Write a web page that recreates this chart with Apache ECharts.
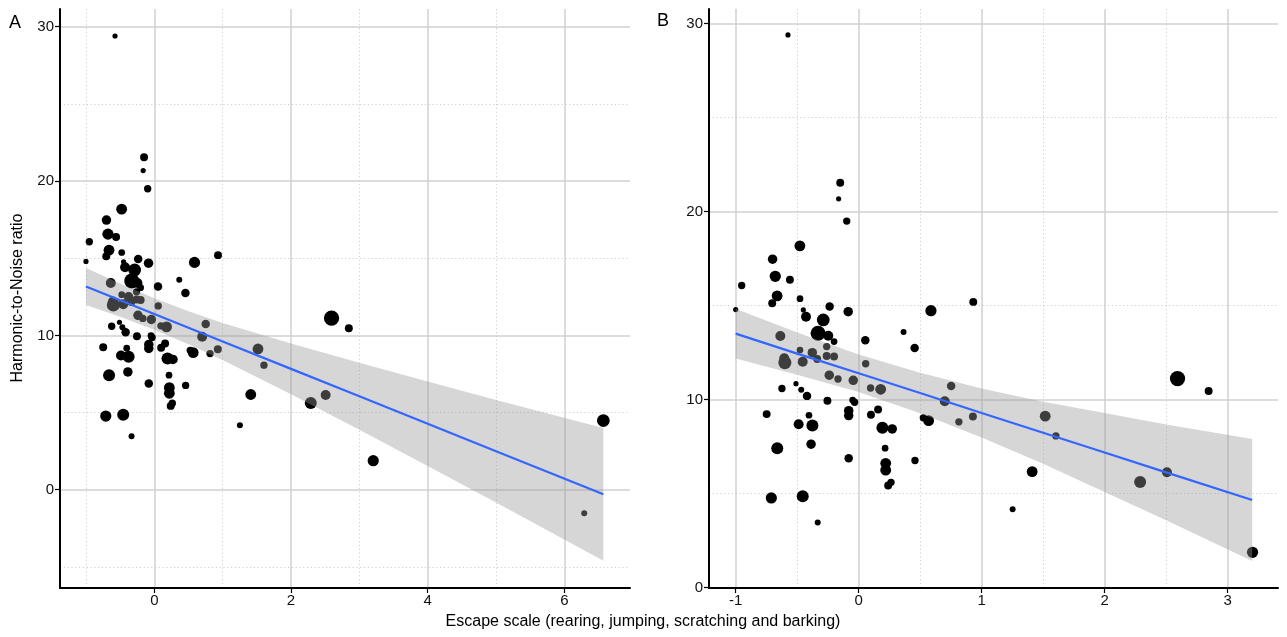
<!DOCTYPE html>
<html><head><meta charset="utf-8">
<script src="https://cdn.jsdelivr.net/npm/echarts@6.0.0/dist/echarts.min.js"></script>
<style>html,body{margin:0;padding:0;background:#fff}#c{width:1287px;height:637px}</style>
</head><body><div id="c"></div>
<script>
// ---------- data ----------
const escapeX = [-0.15,-0.163,-0.097,-0.478,-0.70,-0.678,-0.559,-0.951,-0.663,-0.703,
  -0.477,-1.0,-0.236,-0.085,-0.45,-0.428,-0.288,-0.33,-0.247,-0.20,
  0.054,0.365,-0.637,-0.26,-0.477,-0.377,-0.337,-0.26,-0.20,-0.605,
  -0.60,-0.455,0.057,-0.239,-0.168,-0.044,0.097,0.179,-0.624,-0.51,
  -0.467,-0.42,-0.254,-0.049,-0.033,-0.748,-0.404,-0.081,-0.081,0.10,
  0.158,-0.488,-0.376,0.193,0.273,0.526,0.569,0.70,0.752,0.815,
  0.929,-0.662,-0.387,0.215,-0.081,0.22,0.22,0.24,0.263,-0.71,
  -0.455,-0.333,0.588,0.932,0.455,0.458,1.517,1.604,1.411,1.252,
  2.593,2.846,2.289,2.507,3.203,-0.575];
const hnrY = [21.54,20.68,19.5,18.18,17.47,16.56,16.38,16.07,15.52,15.13,
  15.37,14.79,14.95,14.68,14.77,14.41,14.24,13.53,13.40,13.09,
  13.16,13.6,13.39,12.82,12.64,12.5,12.16,12.32,12.29,12.2,
  11.97,12.02,11.91,11.3,11.1,11.03,10.62,10.55,10.59,10.85,
  10.52,10.2,9.94,9.98,9.86,9.23,9.17,9.41,9.15,9.2,
  9.48,8.69,8.62,8.5,8.44,9.03,8.88,9.91,10.73,8.82,
  9.1,7.42,7.63,7.42,6.88,6.61,6.25,5.43,5.6,4.77,
  4.86,3.46,14.73,15.2,12.75,6.76,9.12,8.07,6.17,4.17,
  11.12,10.46,5.62,6.14,1.88,29.4];
const pointWeight = [7,3,6,13,10,14,7,6,13,7,
  5,3,8,10,3,11,18,25,11,5,
  8,4,11,6,5,10,7,7,7,11,
  19,11,6,10,6,10,6,13,6,3,
  4,8,7,5,6,7,5,10,10,7,
  7,11,16,16,10,6,13,11,8,6,
  7,16,10,5,8,13,13,7,6,14,
  16,4,14,7,8,6,13,6,13,4,
  26,7,16,11,14,3];
// two extreme points shown only in panel A
const outlierX = [6.29, 6.57];
const outlierY = [-1.52, 4.48];
const outlierWeight = [4, 18];

// fitted line and confidence band, panel A
const fitAX  = [-1.0,-0.5,0,0.5,1,2,3,4,5,6.57];
const fitAY  = [13.17,12.28,11.39,10.50,9.61,7.83,6.05,4.27,2.49,-0.30];
const fitALo = [11.97,11.20,10.37,9.43,8.41,6.18,3.88,1.53,-0.83,-4.60];
const fitAHi = [14.37,13.36,12.41,11.57,10.81,9.48,8.22,7.01,5.81,4.00];
// fitted line and confidence band, panel B
const fitBX  = [-1.0,-0.5,0,0.5,1,1.5,2,2.5,3.2];
const fitBY  = [13.51,12.45,11.40,10.35,9.29,8.24,7.19,6.13,4.66];
const fitBLo = [12.19,11.33,10.40,9.27,7.99,6.59,5.09,3.58,1.42];
const fitBHi = [14.83,13.57,12.40,11.43,10.59,9.89,9.29,8.68,7.90];

// ticks
const xTicksA = [0,2,4,6];
const xMinorA = [-1,1,3,5];
const yTicksA = [0,10,20,30];
const yMinorA = [-5,5,15,25];
const xTicksB = [-1,0,1,2,3];
const xMinorB = [-0.5,0.5,1.5,2.5];
const yTicksB = [0,10,20,30];
const yMinorB = [5,15,25];

// ---------- chart ----------
const FONT = 'Liberation Sans, Arial, sans-serif';
const chart = echarts.init(document.getElementById('c'), null, {renderer:'canvas'});

function pts(xs, ys, ws){ return xs.map((x,i)=>[x, ys[i], ws ? ws[i] : 0]); }
const dataB = pts(escapeX, hnrY, pointWeight);
const dataA = dataB.concat(pts(outlierX, outlierY, outlierWeight));

function axesFor(dim, grid, min, max, majors, minors){
  const base = {type:'value', gridIndex:grid, min:min, max:max, scale:true};
  if (dim==='x') base.position = 'bottom'; else base.position = 'left';
  const majorGrid = Object.assign({}, base, {
    z:0, axisLine:{show:false, onZero:false}, axisTick:{show:false, customValues:majors},
    axisLabel:{show:false, customValues:majors},
    splitLine:{show:true, lineStyle:{color:'#d0d0d0', width:1.5}}
  });
  const minorGrid = Object.assign({}, base, {
    z:0, axisLine:{show:false, onZero:false}, axisTick:{show:false, customValues:minors},
    axisLabel:{show:false, customValues:minors},
    splitLine:{show:true, lineStyle:{color:'#cfcfcf', width:1, type:[1.2,2.6]}}
  });
  const visible = Object.assign({}, base, {
    z:1,
    axisLine:{show:true, onZero:false, lineStyle:{color:'#000', width:2}},
    axisTick:{show:true, length:5, customValues:majors, lineStyle:{color:'#000', width:1.2}},
    axisLabel:{show:true, customValues:majors, color:'#111', fontSize:15, fontFamily:FONT, margin: dim==='x'?5:6},
    splitLine:{show:false}
  });
  return [majorGrid, minorGrid, visible];
}

const xAxes = axesFor('x',0,-1.38,6.96,xTicksA,xMinorA).concat(axesFor('x',1,-1.217,3.41,xTicksB,xMinorB));
const yAxes = axesFor('y',0,-6.37,31.15,yTicksA,yMinorA).concat(axesFor('y',1,-0.02,30.78,yTicksB,yMinorB));

function ribbon(xs, lo, hi, xi, yi){
  return {
    type:'custom', xAxisIndex:xi, yAxisIndex:yi, z:3, silent:true, clip:true,
    data:[[xs[0], lo[0]]],
    renderItem: function(params, api){
      const p = [];
      for (let i=0;i<xs.length;i++) p.push(api.coord([xs[i], hi[i]]));
      for (let i=xs.length-1;i>=0;i--) p.push(api.coord([xs[i], lo[i]]));
      return {type:'polygon', shape:{points:p}, style:{fill:'rgba(153,153,153,0.4)'}};
    }
  };
}
function scatter(data, xi, yi){
  return {type:'scatter', xAxisIndex:xi, yAxisIndex:yi, z:2, data:data,
    symbolSize: v => Math.sqrt(v[2])*3,
    itemStyle:{color:'#000', opacity:1}, silent:true};
}
function fitLine(xs, ys, xi, yi){
  return {type:'line', xAxisIndex:xi, yAxisIndex:yi, z:4, data:pts(xs,ys), showSymbol:false,
    symbol:'none', lineStyle:{color:'#3366FF', width:2.2}, silent:true};
}

chart.setOption({
  animation:false,
  backgroundColor:'#fff',
  grid:[
    {left:60, top:9, width:570, height:579, containLabel:false},
    {left:709, top:9, width:569, height:579, containLabel:false}
  ],
  xAxis: xAxes,
  yAxis: yAxes,
  series:[
    scatter(dataA, 0, 0), ribbon(fitAX, fitALo, fitAHi, 0, 0), fitLine(fitAX, fitAY, 0, 0),
    scatter(dataB, 3, 3), ribbon(fitBX, fitBLo, fitBHi, 3, 3), fitLine(fitBX, fitBY, 3, 3)
  ],
  graphic:[
    {type:'text', x:15, y:23, style:{text:'A', font:'18px '+FONT, fill:'#000', textAlign:'center', textVerticalAlign:'middle'}},
    {type:'text', x:663, y:21, style:{text:'B', font:'18px '+FONT, fill:'#000', textAlign:'center', textVerticalAlign:'middle'}},
    {type:'text', x:18, y:298, rotation:Math.PI/2, style:{text:'Harmonic-to-Noise ratio', font:'16px '+FONT, fill:'#000', textAlign:'center', textVerticalAlign:'middle'}},
    {type:'text', x:643, y:622, style:{text:'Escape scale (rearing, jumping, scratching and barking)', font:'16px '+FONT, fill:'#000', textAlign:'center', textVerticalAlign:'middle'}}
  ]
});
</script>
</body></html>
